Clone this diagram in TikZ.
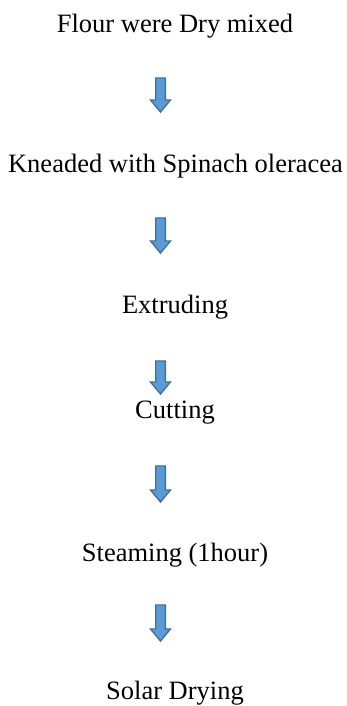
\documentclass[tikz,border=0pt]{standalone}
\usepackage{fontspec}
\setmainfont{Liberation Serif}
\definecolor{arrfill}{HTML}{5B9BD5}
\definecolor{arrline}{HTML}{41719C}
\tikzset{
  steptext/.style={anchor=base, inner sep=0pt, font=\fontsize{26.5}{30}\selectfont},
  arrowstyle/.style={fill=arrfill, draw=arrline, line width=1.4pt, line join=miter},
  pics/blockarrow/.style={code={
    \draw[arrowstyle] (-4.8pt,0pt) -- (4.8pt,0pt) -- (4.8pt,-#1+12pt) -- (10pt,-#1+12pt)
      -- (0pt,-#1) -- (-10pt,-#1+12pt) -- (-4.8pt,-#1+12pt) -- cycle;
  }}
}
\begin{document}
\begin{tikzpicture}[x=1pt,y=1pt]
\useasboundingbox (0,0) rectangle (347,706);
\node[steptext] (s1) at (175,673) {Flour were Dry mixed};
\node[steptext] (s2) at (175.5,533) {Kneaded with Spinach oleracea};
\node[steptext] (s3) at (175,392) {Extruding};
\node[steptext] (s4) at (175,287) {Cutting};
\node[steptext] (s5) at (175,144) {Steaming (1hour)};
\node[steptext] (s6) at (175,6) {Solar Drying};
\pic (a1) at (160.5,628) {blockarrow=34};
\pic (a2) at (160.5,488) {blockarrow=35};
\pic (a3) at (160.5,345) {blockarrow=33};
\pic (a4) at (160.5,240) {blockarrow=36};
\pic (a5) at (160.5,101) {blockarrow=36};
\end{tikzpicture}
\end{document}
